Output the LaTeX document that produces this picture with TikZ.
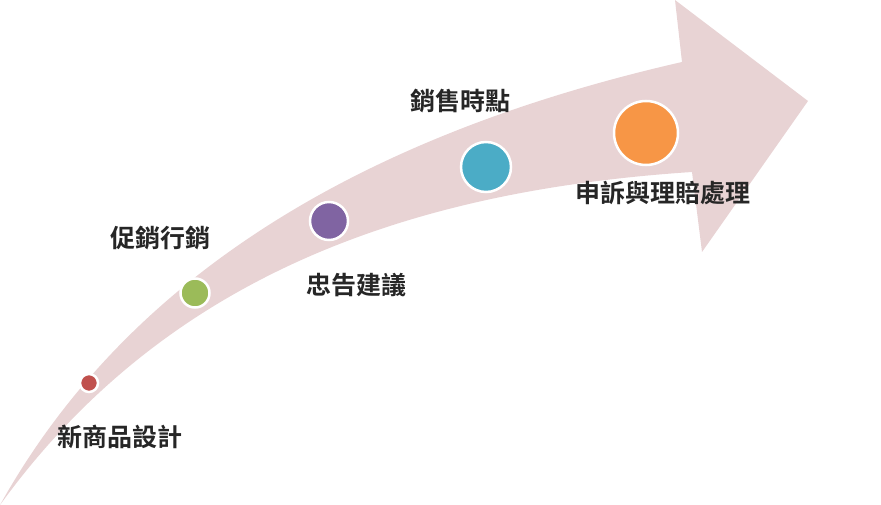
\documentclass[tikz,border=0pt]{standalone}
\usepackage{fontspec}
\newfontfamily\cjk{Noto Sans CJK TC}[BoldFont={* Bold}]
\begin{document}
\begin{tikzpicture}[x=1pt,y=-1pt,
  dot/.style={circle,draw=white,line width=2.5pt,inner sep=0pt},
  lab/.style={font=\cjk\fontsize{25}{28}\selectfont\bfseries,text=black!85,inner sep=0pt}]
\useasboundingbox (0,0) rectangle (881,505);
\fill[fill={rgb,255:red,232;green,211;blue,212}]
  (0,505) .. controls (120,290) and (340,140) .. (682,62)
  -- (675,0) -- (808,101) -- (702,252) -- (692,172)
  .. controls (420,190) and (170,270) .. (0,505) -- cycle;
\node[dot,fill={rgb,255:red,192;green,80;blue,77},minimum size=18pt] (d1) at (89,383) {};
\node[dot,fill={rgb,255:red,155;green,187;blue,89},minimum size=29pt] (d2) at (195,293) {};
\node[dot,fill={rgb,255:red,128;green,100;blue,162},minimum size=38pt] (d3) at (329,221) {};
\node[dot,fill={rgb,255:red,75;green,172;blue,198},minimum size=50pt] (d4) at (486,167) {};
\node[dot,fill={rgb,255:red,247;green,150;blue,70},minimum size=64pt] (d5) at (646,133) {};
\node[lab] (t1) at (120,437) {新商品設計};
\node[lab] (t2) at (160,238) {促銷行銷};
\node[lab] (t3) at (356,285) {忠告建議};
\node[lab] (t4) at (460,101) {銷售時點};
\node[lab] (t5) at (663,193) {申訴與理賠處理};
\end{tikzpicture}
\end{document}
